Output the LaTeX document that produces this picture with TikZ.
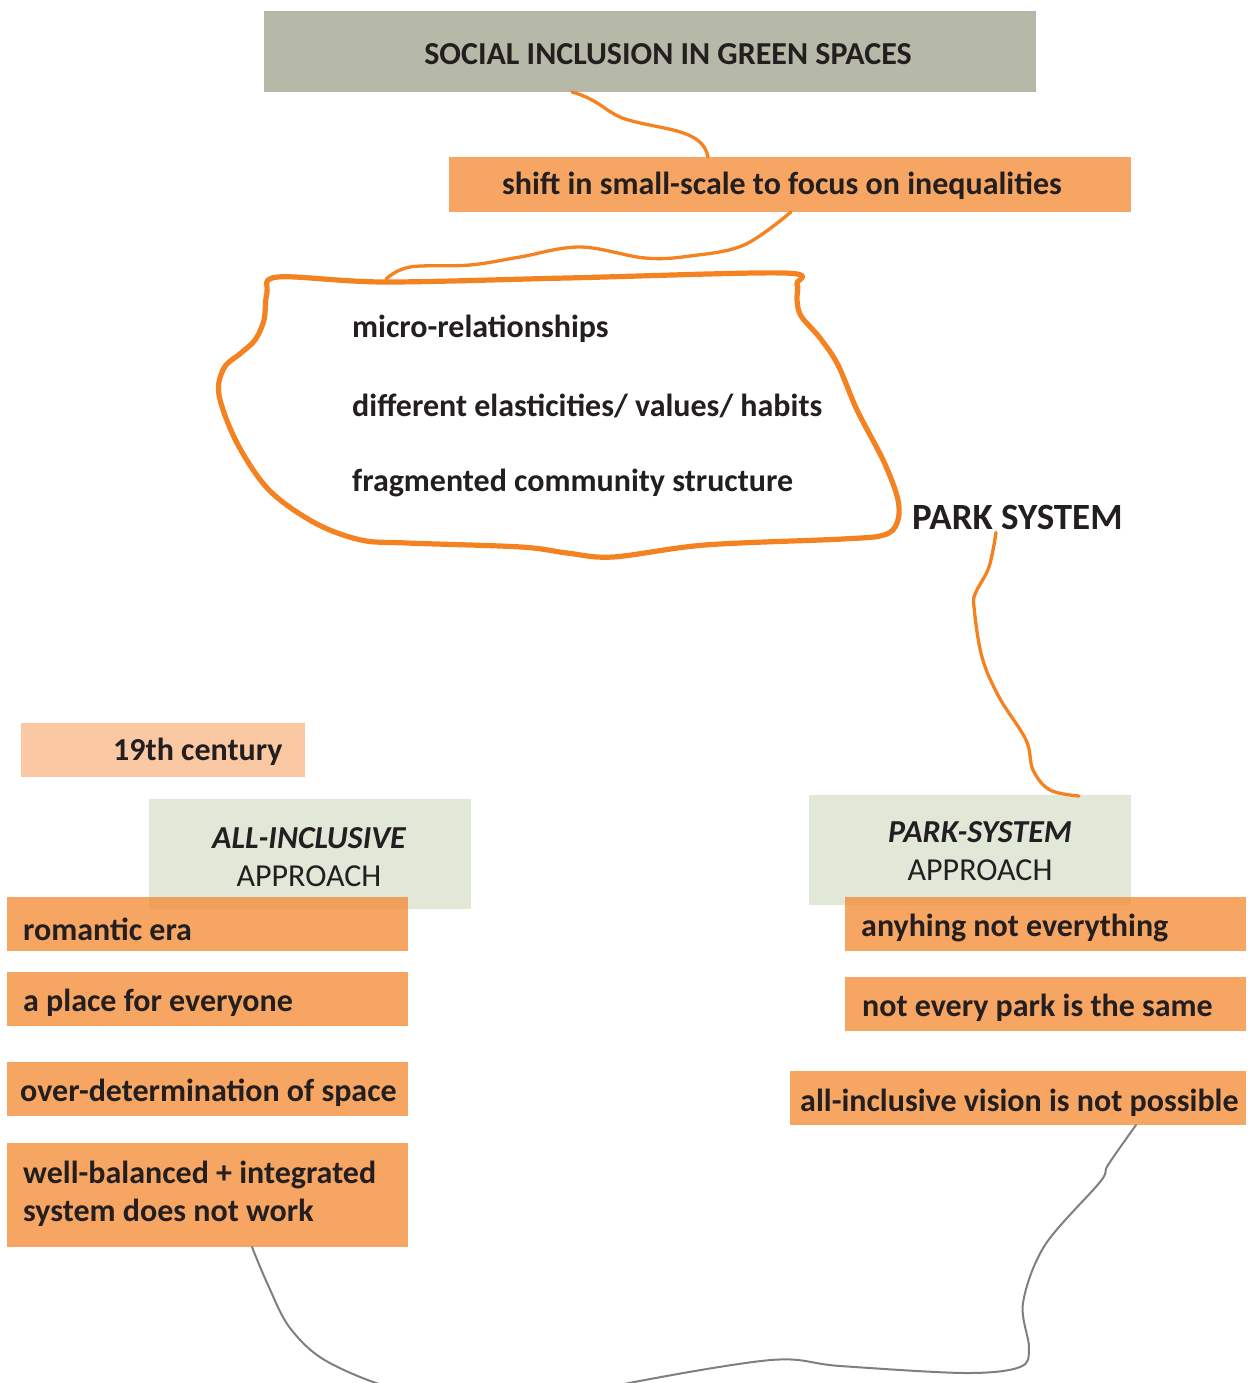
\documentclass[tikz,border=0pt]{standalone}
\usepackage{fontspec}
\setmainfont{Carlito}
\usetikzlibrary{calc}
\definecolor{titlegray}{HTML}{B6B9A7}
\definecolor{boxorange}{HTML}{F6A562}
\definecolor{paleorange}{HTML}{FAC9A4}
\definecolor{palegreen}{HTML}{E1E8D8}
\definecolor{overlaporange}{HTML}{EEA05C}
\definecolor{lineorange}{HTML}{F58220}
\definecolor{linegray}{HTML}{7F7F7F}
\definecolor{ink}{HTML}{231F20}
\begin{document}
\begin{tikzpicture}[x=1pt,y=-1pt,
  panel/.style={anchor=north west, inner sep=0, outer sep=0, draw=none},
  label/.style={inner sep=0, yshift=-2pt, text=ink, font=\fontsize{32}{38}\selectfont\bfseries},
  orangelink/.style={draw=lineorange, line width=3.3pt, line cap=round},
  graylink/.style={draw=linegray, line width=2pt, line cap=round}]
\useasboundingbox (0,0) rectangle (1256,1383);
\clip (0,0) rectangle (1256,1383);

% title and first statement
\node[panel, fill=titlegray, minimum width=772pt, minimum height=81pt] (title) at (264,11) {};
\node[label] (titletext) at (668,52) {SOCIAL INCLUSION IN GREEN SPACES};
\node[panel, fill=boxorange, minimum width=682pt, minimum height=55pt] (shift) at (449,157) {};
\node[label, anchor=west] (shifttext) at (502,184) {shift in small-scale to focus on inequalities};

% outlined cloud of small-scale themes
\draw[lineorange, line width=5.2pt, line join=round]
  plot[smooth cycle, tension=0.55] coordinates {
    (278,277) (384,282) (567,278) (783,273) (797,284) (797,300) (801,316)
    (820,338) (838,365) (857,410) (884,462) (898,500) (897,523) (884,535)
    (843,539) (705,545) (613,557) (567,553) (521,547) (407,543) (361,540)
    (315,523) (269,490) (237,443) (219,395) (224,368) (241,353) (255,340)
    (264,320) (267,293)};
\coordinate (cloudtop) at (386,279);
\node[label, anchor=west] (micro) at (352,327) {micro-relationships};
\node[label, anchor=west] (elast) at (352,404) {different elasticities/ values/ habits};
\node[label, anchor=west] (frag) at (352,481) {fragmented community structure};

\node[label, font=\fontsize{37}{44}\selectfont\bfseries, anchor=west] (park) at (912,515) {PARK SYSTEM};

% approach panels
\node[panel, fill=paleorange, minimum width=284pt, minimum height=54pt] (century) at (21,723) {};
\node[label, anchor=west] (centurytext) at (113,750) {19th century};

\node[panel, fill=palegreen, minimum width=322pt, minimum height=110pt] (allbox) at (149,799) {};
\node[panel, fill=palegreen, minimum width=322pt, minimum height=110pt] (psbox) at (809,795) {};

% left column
\node[panel, fill=boxorange, minimum width=401pt, minimum height=54pt] (romantic) at (7,897) {};
\node[panel, fill=boxorange, minimum width=401pt, minimum height=54pt] (place) at (7,972) {};
\node[panel, fill=boxorange, minimum width=401pt, minimum height=54pt] (over) at (7,1062) {};
\node[panel, fill=boxorange, minimum width=401pt, minimum height=104pt] (balanced) at (7,1143) {};
\fill[overlaporange] (149,897) rectangle (408,909);

% right column
\node[panel, fill=boxorange, minimum width=401pt, minimum height=54pt] (anything) at (845,897) {};
\node[panel, fill=boxorange, minimum width=401pt, minimum height=54pt] (notevery) at (845,977) {};
\node[panel, fill=boxorange, minimum width=456pt, minimum height=54pt] (vision) at (790,1071) {};
\fill[overlaporange] (845,897) rectangle (1131,905);

% approach headings
\node[label, font=\fontsize{32}{38}\selectfont\bfseries\itshape] (allhead) at (309,836) {ALL-INCLUSIVE};
\node[label, font=\fontsize{32}{38}\selectfont] (allsub) at (309,874) {APPROACH};
\node[label, font=\fontsize{32}{38}\selectfont\bfseries\itshape] (pshead) at (980,830) {PARK-SYSTEM};
\node[label, font=\fontsize{32}{38}\selectfont] (pssub) at (980,868) {APPROACH};

% statements
\node[label, anchor=west] (romantictext) at (23,927) {romantic era};
\node[label, anchor=west] (placetext) at (23,1001) {a place for everyone};
\node[label, anchor=west] (overtext) at (20,1091) {over-determination of space};
\node[label, anchor=west, align=left] (balancedtext) at (23,1192) {well-balanced + integrated\\system does not work};
\node[label, anchor=west] (anythingtext) at (861,926) {anyhing not everything};
\node[label, anchor=west] (noteverytext) at (862,1006) {not every park is the same};
\node[label, anchor=west] (visiontext) at (800,1101) {all-inclusive vision is not possible};

% orange connectors
\draw[orangelink] ($(title.south west)+(308,0)$)
  .. controls (600,100) and (605,112) .. (625,119)
  .. controls (660,130) and (703,128) .. ($(shift.north west)+(259,0)$);
\draw[orangelink] plot[smooth, tension=0.6] coordinates {
  ($(shift.south west)+(342,0)$) (744,245) (690,256) (645,258) (580,247)
  (520,257) (470,265) (410,267) (cloudtop)};
\draw[orangelink] plot[smooth, tension=0.6] coordinates {
  ($(park.south west)+(84,3)$) (989,567) (976,592) (974,607) (982,657)
  (999,697) (1026,740) (1033,770) (1050,790) ($(psbox.north west)+(270,1)$)};

% gray connector running below the frame
\draw[graylink] plot[smooth, tension=0.55] coordinates {
  ($(balanced.south west)+(245,0)$) (268,1285) (290,1328) (328,1362) (405,1392)
  (515,1410) (624,1384) (771,1360) (840,1366) (965,1373) (1020,1367)
  (1029,1348) (1023,1303) (1045,1245) (1100,1182) (1108,1165)
  ($(vision.south west)+(346,0)$)};
\end{tikzpicture}
\end{document}
